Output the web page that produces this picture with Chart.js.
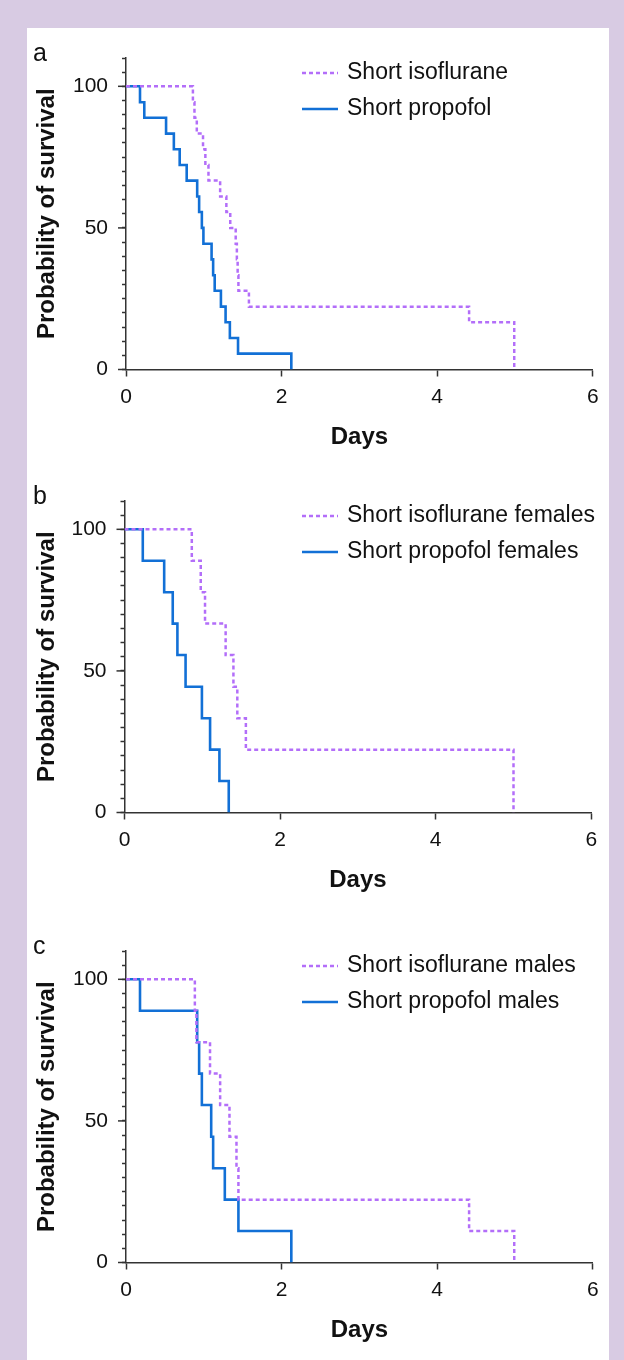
<!DOCTYPE html>
<html>
<head>
<meta charset="utf-8">
<script src="https://cdn.jsdelivr.net/npm/chart.js@4.4.0/dist/chart.umd.min.js"></script>
<style>
html, body { margin: 0; padding: 0; }
body { width: 624px; height: 1360px; background: #d8cbe3; position: relative; overflow: hidden; }
#sheet { position: absolute; left: 27px; top: 28px; width: 582px; height: 1340px; background: #fff; }
canvas { position: absolute; left: 0; }
</style>
</head>
<body>
<div id="sheet"></div>
<canvas id="chartA" width="624" height="440" style="top:28px"></canvas>
<canvas id="chartB" width="624" height="440" style="top:471px"></canvas>
<canvas id="chartC" width="624" height="440" style="top:921px"></canvas>
<script>
// shared axes
const dayTicks = [0, 2, 4, 6];
const survivalLabels = [0, 50, 100];

// panel a
const legendA = ['Short isoflurane', 'Short propofol'];
const isoDaysA = [0, 0.86, 0.88, 0.91, 0.99, 1.02, 1.06, 1.21, 1.29, 1.34, 1.41, 1.425, 1.435, 1.445, 1.58, 4.41, 4.99];
const isoSurvA = [100, 94.4, 88.9, 83.3, 77.8, 72.2, 66.7, 61.1, 55.6, 50, 44.4, 38.9, 33.3, 27.8, 22.2, 16.7, 0];
const propDaysA = [0, 0.18, 0.235, 0.515, 0.615, 0.69, 0.78, 0.915, 0.94, 0.975, 0.995, 1.10, 1.12, 1.14, 1.22, 1.28, 1.335, 1.44, 2.125];
const propSurvA = [100, 94.4, 88.9, 83.3, 77.8, 72.2, 66.7, 61.1, 55.6, 50, 44.4, 38.9, 33.3, 27.8, 22.2, 16.7, 11.1, 5.6, 0];

// panel b
const legendB = ['Short isoflurane females', 'Short propofol females'];
const isoDaysB = [0, 0.865, 0.98, 1.035, 1.30, 1.40, 1.45, 1.56, 5.0];
const isoSurvB = [100, 88.9, 77.8, 66.7, 55.6, 44.4, 33.3, 22.2, 0];
const propDaysB = [0, 0.235, 0.51, 0.62, 0.68, 0.785, 0.995, 1.10, 1.22, 1.34];
const propSurvB = [100, 88.9, 77.8, 66.7, 55.6, 44.4, 33.3, 22.2, 11.1, 0];

// panel c
const legendC = ['Short isoflurane males', 'Short propofol males'];
const isoDaysC = [0, 0.885, 0.905, 1.08, 1.21, 1.33, 1.42, 1.445, 4.41, 4.99];
const isoSurvC = [100, 88.9, 77.8, 66.7, 55.6, 44.4, 33.3, 22.2, 11.1, 0];
const propDaysC = [0, 0.18, 0.915, 0.94, 0.975, 1.095, 1.12, 1.27, 1.445, 2.125];
const propSurvC = [100, 88.9, 77.8, 66.7, 55.6, 44.4, 33.3, 22.2, 11.1, 0];

const FONT = '"Liberation Sans", Arial, Helvetica, sans-serif';
Chart.defaults.font.family = FONT;
Chart.defaults.color = '#111';

const AXIS = '#333';
const ISO_COLOR = '#b36ef9';
const PROP_COLOR = '#1270d6';

// panel letter, legend and the longer labelled y ticks
const overlay = {
	id: 'overlay',
	afterDraw(chart, args, opts) {
		const {ctx, chartArea} = chart;
		const y = chart.scales.y;
		ctx.save();
		ctx.strokeStyle = AXIS;
		ctx.lineWidth = 1.5;
		survivalLabels.forEach(v => {
			const py = y.getPixelForValue(v);
			ctx.beginPath();
			ctx.moveTo(chartArea.left - 8, py);
			ctx.lineTo(chartArea.left, py);
			ctx.stroke();
		});

		ctx.fillStyle = '#111';
		ctx.textAlign = 'left';
		ctx.textBaseline = 'alphabetic';
		ctx.font = '25px ' + FONT;
		ctx.fillText(opts.letter, 33, chartArea.top + 3);

		ctx.font = '23px ' + FONT;
		ctx.textBaseline = 'middle';
		chart.data.datasets.forEach((ds, i) => {
			const ly = chartArea.top + 15 + i * 36;
			ctx.strokeStyle = ds.borderColor;
			ctx.lineWidth = ds.borderWidth;
			ctx.setLineDash(ds.borderDash || []);
			ctx.beginPath();
			ctx.moveTo(302, ly);
			ctx.lineTo(338, ly);
			ctx.stroke();
			ctx.setLineDash([]);
			ctx.fillText(ds.label, 347, ly);
		});
		ctx.restore();
	}
};

function points(days, surv) {
	return days.map((d, i) => ({x: d, y: surv[i]}));
}

function makePanel(id, letter, labels, isoDays, isoSurv, propDays, propSurv, axisLeft) {
	const canvas = document.getElementById(id);
	const plotHeight = 311.5;
	return new Chart(canvas, {
		type: 'line',
		data: {
			datasets: [
				{
					label: labels[0],
					data: points(isoDays, isoSurv),
					borderColor: ISO_COLOR,
					borderWidth: 2.5,
					borderDash: [4, 3],
					stepped: true,
					pointRadius: 0,
					fill: false
				},
				{
					label: labels[1],
					data: points(propDays, propSurv),
					borderColor: PROP_COLOR,
					borderWidth: 2.6,
					stepped: true,
					pointRadius: 0,
					fill: false
				}
			]
		},
		options: {
			responsive: false,
			animation: false,
			devicePixelRatio: 1,
			layout: {padding: {left: 0, top: 30, right: 624 - (axisLeft + 466.8), bottom: 0}},
			plugins: {
				legend: {display: false},
				tooltip: {enabled: false},
				overlay: {letter: letter}
			},
			scales: {
				x: {
					type: 'linear',
					min: 0,
					max: 6,
					afterFit(scale) { scale.height = canvas.height - 30 - plotHeight; },
					afterBuildTicks(scale) { scale.ticks = dayTicks.map(v => ({value: v})); },
					ticks: {font: {size: 21}, color: '#111', padding: 8, maxRotation: 0},
					grid: {drawOnChartArea: false, drawTicks: true, tickLength: 7, tickColor: AXIS, tickWidth: 1.5},
					border: {color: AXIS, width: 1.5},
					title: {display: true, text: 'Days', font: {size: 24, weight: 'bold'}, color: '#111', padding: {top: 0, bottom: 16}}
				},
				y: {
					min: 0,
					max: 110,
					afterFit(scale) { scale.width = axisLeft; },
					ticks: {
						stepSize: 5,
						autoSkip: false,
						font: {size: 21},
						color: '#111',
						padding: 14,
						callback: v => survivalLabels.includes(v) ? String(v) : ''
					},
					grid: {drawOnChartArea: false, drawTicks: true, tickLength: 4, tickColor: AXIS, tickWidth: 1.5},
					border: {color: AXIS, width: 1.5},
					title: {display: true, text: 'Probability of survival', font: {size: 24, weight: 'bold'}, color: '#111', padding: {top: 33, bottom: 0}}
				}
			}
		},
		plugins: [overlay]
	});
}

makePanel('chartA', 'a', legendA, isoDaysA, isoSurvA, propDaysA, propSurvA, 126);
makePanel('chartB', 'b', legendB, isoDaysB, isoSurvB, propDaysB, propSurvB, 124.5);
makePanel('chartC', 'c', legendC, isoDaysC, isoSurvC, propDaysC, propSurvC, 126);
</script>
</body>
</html>
